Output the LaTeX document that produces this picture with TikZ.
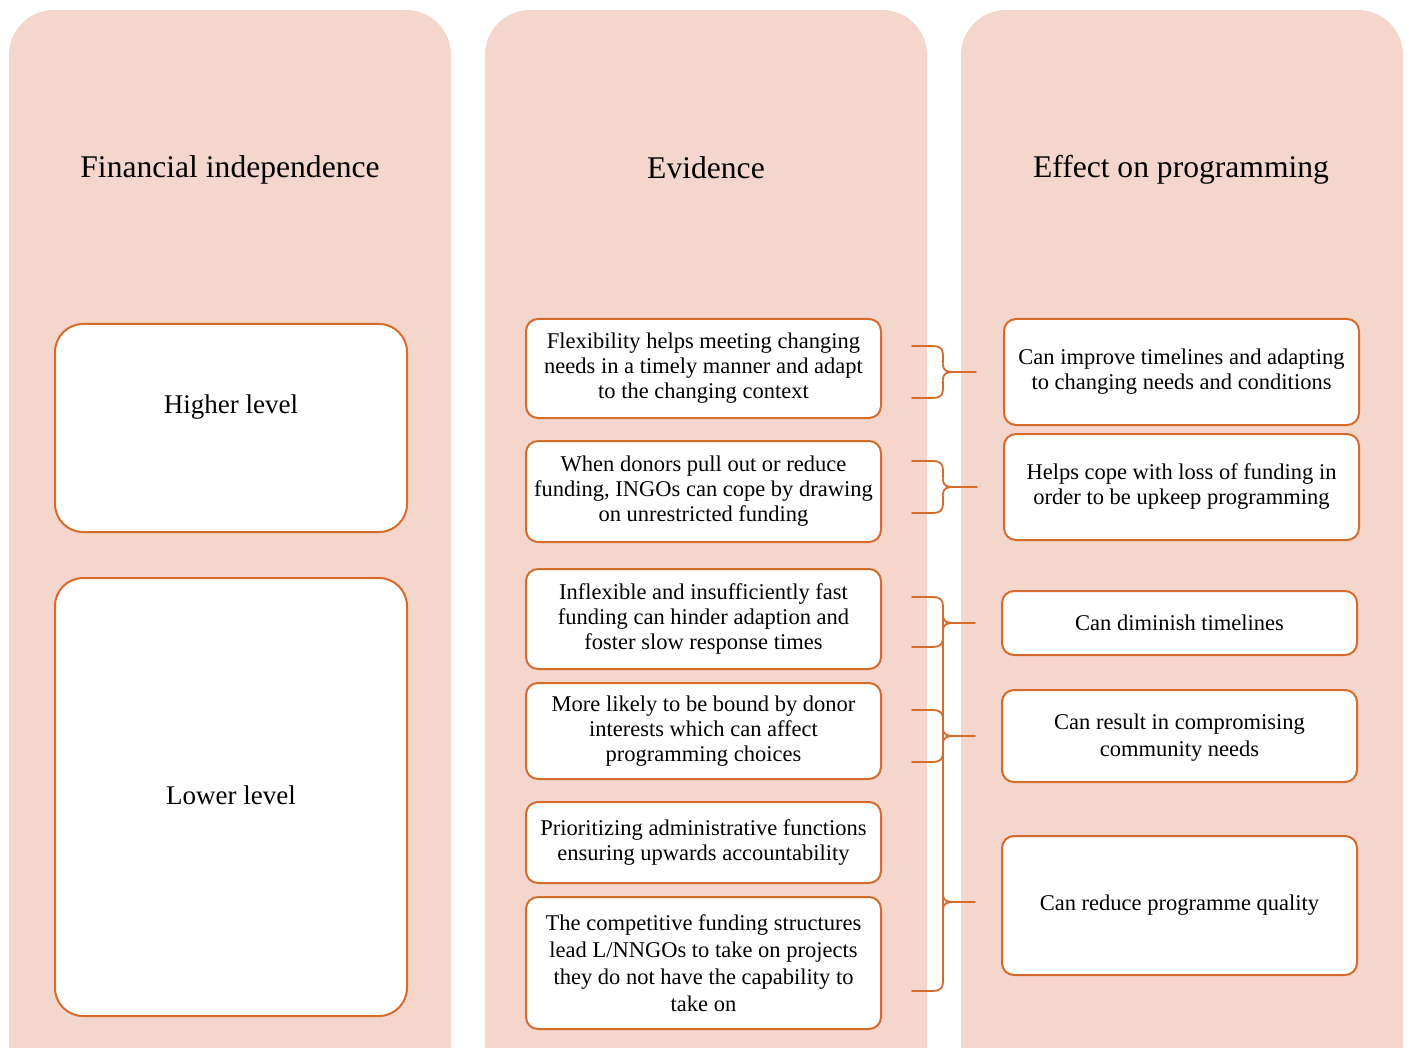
\documentclass[tikz,border=0pt]{standalone}
\usepackage{fontspec}
\setmainfont{Liberation Serif}
\usetikzlibrary{calc}
\definecolor{panel}{RGB}{244,214,204}
\definecolor{edge}{RGB}{214,108,44}

% pieces of the curly brackets between the evidence and effect columns
\newcommand\braceopen[1]{\draw[brc] (912,#1) -- (933,#1) .. controls (940,#1) and (943,#1+3) .. (943,#1+9);}
\newcommand\braceclose[1]{\draw[brc] (912,#1) -- (933,#1) .. controls (940,#1) and (943,#1-3) .. (943,#1-9);}
\newcommand\bracespine[2]{\draw[brc] (943,#1+9) -- (943,#2-9);}
\newcommand\bracetip[2]{%
  \draw[brc] (943,#1-8) .. controls (943,#1-1) and (947,#1) .. (954,#1) -- (#2);
  \draw[brc] (943,#1+8) .. controls (943,#1+1) and (947,#1) .. (954,#1);}

\begin{document}
\begin{tikzpicture}[x=0.5pt,y=-0.5pt,
  panelbox/.style={fill=panel, draw=none, rounded corners=22.5pt},
  head/.style={font=\fontsize{15.8}{18}\selectfont},
  card/.style={draw=edge, line width=1pt, fill=white, rounded corners=6pt,
    align=center, inner sep=0pt, minimum width=177.5pt,
    font=\fontsize{11.25}{12.5}\selectfont},
  level/.style={draw=edge, line width=1pt, fill=white, rounded corners=14pt,
    minimum width=176pt, inner sep=0pt, align=center,
    font=\fontsize{13.5}{16}\selectfont},
  brc/.style={draw=edge, line width=0.9pt, line cap=round}]

\useasboundingbox (0,0) rectangle (1409,1048);
\clip (0,0) rectangle (1409,1048);

% three column panels
\fill[panelbox] (9,10) rectangle (451,1110);
\fill[panelbox] (485,10) rectangle (927,1110);
\fill[panelbox] (961,10) rectangle (1403,1110);

% headers
\node[head] (h1) at (230,170) {Financial independence};
\node[head] (h2) at (706,168) {Evidence};
\node[head] (h3) at (1181,170) {Effect on programming};

% levels of financial independence
\node[level, minimum height=104pt] (hi) at (231,428) {};
\node[font=\fontsize{13.5}{16}\selectfont] (hilabel) at (231,407) {Higher level};
\node[level, minimum height=219pt] (lo) at (231,797) {};
\node[font=\fontsize{13.5}{16}\selectfont] (lolabel) at (231,795) {Lower level};

% evidence
\node[card, minimum height=49.5pt] (e1) at (703.5,368.5)
  {Flexibility helps meeting changing\\needs in a timely manner and adapt\\to the changing context};
\node[card, minimum height=50.5pt] (e2) at (703.5,491.5)
  {When donors pull out or reduce\\funding, INGOs can cope by drawing\\on unrestricted funding};
\node[card, minimum height=50pt] (e3) at (703.5,619)
  {Inflexible and insufficiently fast\\funding can hinder adaption and\\foster slow response times};
\node[card, minimum height=48pt] (e4) at (703.5,731)
  {More likely to be bound by donor\\interests which can affect\\programming choices};
\node[card, minimum height=40.5pt] (e5) at (703.5,842.5)
  {Prioritizing administrative functions\\ensuring upwards accountability};
\node[card, minimum height=66pt, font=\fontsize{11.25}{13.5}\selectfont] (e6) at (703.5,963)
  {The competitive funding structures\\lead L/NNGOs to take on projects\\they do not have the capability to\\take on};

% effects on programming
\node[card, minimum height=53pt] (f1) at (1181.5,372)
  {Can improve timelines and adapting\\to changing needs and conditions};
\node[card, minimum height=53pt] (f2) at (1181.5,487)
  {Helps cope with loss of funding in\\order to be upkeep programming};
\node[card, minimum height=32pt] (f3) at (1179.5,623)
  {Can diminish timelines};
\node[card, minimum height=46pt] (f4) at (1179.5,736) {};
\node[font=\fontsize{11.25}{13.5}\selectfont, align=center] (f4text) at (1179.5,738)
  {Can result in compromising\\community needs};
\node[card, minimum height=69.5pt] (f5) at (1179.5,905.5)
  {Can reduce programme quality};

% brackets: e1 -> f1
\braceopen{346} \bracespine{346}{372} \bracespine{372}{398} \braceclose{398}
\bracetip{372}{976,372}
% e2 -> f2
\braceopen{461} \bracespine{461}{487} \bracespine{487}{513} \braceclose{513}
\bracetip{487}{977,487}
% e3, e4 and the whole lower group -> f3, f4, f5
\braceopen{597} \braceclose{647}
\braceopen{710} \braceclose{762}
\bracespine{597}{991} \braceclose{991}
\bracetip{623}{975,623}
\bracetip{736}{975,736}
\bracetip{902}{975,902}

\end{tikzpicture}
\end{document}
